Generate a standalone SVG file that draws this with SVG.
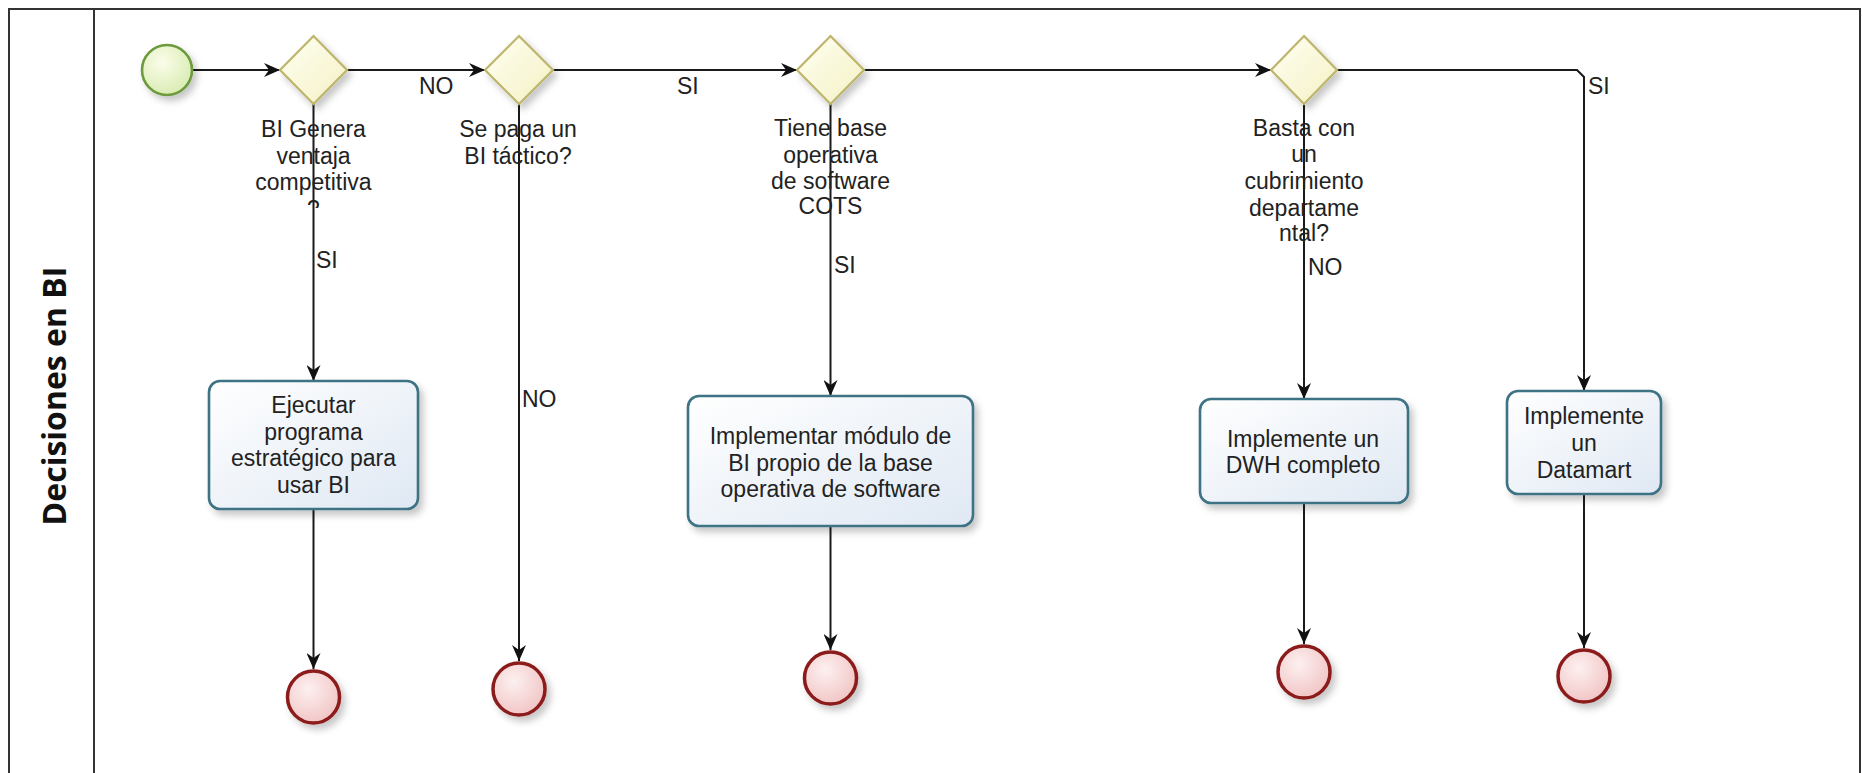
<svg xmlns="http://www.w3.org/2000/svg" width="1862" height="773" viewBox="0 0 1862 773">
<style>
.t{font-family:"Liberation Sans",Arial,sans-serif;font-size:23px;fill:#222;text-anchor:middle}
.l{font-family:"Liberation Sans",Arial,sans-serif;font-size:23px;fill:#222}
.c{fill:none;stroke:#1a1a1a;stroke-width:2;marker-end:url(#arr)}
.dia{fill:url(#gD);stroke:#bdb56c;stroke-width:2.2;filter:url(#sh)}
.box{fill:url(#gB);stroke:#3e7384;stroke-width:2.6;filter:url(#sh)}
.end{fill:url(#gE);stroke:#8c1c1c;stroke-width:3.5;filter:url(#sh)}
</style>
<defs>
<marker id="arr" viewBox="0 0 16 14" refX="16" refY="7" markerWidth="16" markerHeight="14" markerUnits="userSpaceOnUse" orient="auto"><path d="M0,0 L16,7 L0,14 L5,7 z" fill="#111"/></marker>
<filter id="sh" x="-30%" y="-30%" width="170%" height="170%"><feDropShadow dx="4" dy="5" stdDeviation="3.5" flood-color="#000" flood-opacity="0.22"/></filter>
<linearGradient id="gD" x1="0" y1="0" x2="1" y2="1"><stop offset="0" stop-color="#fffff2"/><stop offset="1" stop-color="#f4f1c4"/></linearGradient>
<linearGradient id="gB" x1="0" y1="0" x2="1" y2="1"><stop offset="0" stop-color="#ffffff"/><stop offset="1" stop-color="#dfe8f3"/></linearGradient>
<radialGradient id="gE" cx="0.4" cy="0.35" r="0.7"><stop offset="0" stop-color="#fdf0f0"/><stop offset="1" stop-color="#f1c3c3"/></radialGradient>
<radialGradient id="gS" cx="0.4" cy="0.35" r="0.7"><stop offset="0" stop-color="#fbfdea"/><stop offset="1" stop-color="#d8ebb0"/></radialGradient>
<clipPath id="clipQ"><rect x="280" y="190" width="70" height="18"/></clipPath>
</defs>

<g id="pool">
<rect x="9" y="9" width="1851" height="780" fill="#fff" stroke="#333" stroke-width="2"/>
<line x1="94" y1="9" x2="94" y2="773" stroke="#333" stroke-width="2"/>
<text x="0" y="0" transform="translate(66,396) rotate(-90)" style="font-family:'Open Sans','DejaVu Sans',sans-serif;font-weight:700;font-size:32px;fill:#111;text-anchor:middle">Decisiones en BI</text>
</g>

<g id="connectors">
<line class="c" x1="193" y1="70" x2="280" y2="70"/>
<line class="c" x1="347" y1="70" x2="485" y2="70"/>
<line class="c" x1="553" y1="70" x2="797" y2="70"/>
<line class="c" x1="864" y1="70" x2="1271" y2="70"/>
<path class="c" d="M1337,70 H1577 L1584,77 V391"/>
<line class="c" x1="313.5" y1="104" x2="313.5" y2="381"/>
<line class="c" x1="313.5" y1="509" x2="313.5" y2="669"/>
<line class="c" x1="519" y1="104" x2="519" y2="661"/>
<line class="c" x1="830.5" y1="104" x2="830.5" y2="396"/>
<line class="c" x1="830.5" y1="526" x2="830.5" y2="650"/>
<line class="c" x1="1304" y1="104" x2="1304" y2="399"/>
<line class="c" x1="1304" y1="503" x2="1304" y2="644"/>
<line class="c" x1="1584" y1="494" x2="1584" y2="648"/>
<text class="l" x="419" y="94">NO</text>
<text class="l" x="677" y="94">SI</text>
<text class="l" x="316" y="268">SI</text>
<text class="l" x="522" y="407">NO</text>
<text class="l" x="834" y="273">SI</text>
<text class="l" x="1308" y="275">NO</text>
<text class="l" x="1588" y="94">SI</text>
</g>

<g id="start">
<circle cx="167" cy="70" r="25" fill="url(#gS)" stroke="#6c9a3c" stroke-width="2.6" filter="url(#sh)"/>
</g>

<g id="gw1">
<polygon class="dia" points="313.5,36 347,70 313.5,104 280,70"/>
<text class="t" x="313.5" y="137">BI Genera</text>
<text class="t" x="313.5" y="163.5">ventaja</text>
<text class="t" x="313.5" y="190">competitiva</text>
<text class="t" x="313.5" y="216.5" clip-path="url(#clipQ)">?</text>
</g>

<g id="gw2">
<polygon class="dia" points="519,36 553,70 519,104 485,70"/>
<text class="t" x="518" y="137">Se paga un</text>
<text class="t" x="518" y="163.5">BI táctico?</text>
</g>

<g id="gw3">
<polygon class="dia" points="830.5,36 864,70 830.5,104 797,70"/>
<text class="t" x="830.5" y="136">Tiene base</text>
<text class="t" x="830.5" y="162.5">operativa</text>
<text class="t" x="830.5" y="189">de software</text>
<text class="t" x="830.5" y="214">COTS</text>
</g>

<g id="gw4">
<polygon class="dia" points="1304,36 1337,70 1304,104 1271,70"/>
<text class="t" x="1304" y="136">Basta con</text>
<text class="t" x="1304" y="162">un</text>
<text class="t" x="1304" y="189">cubrimiento</text>
<text class="t" x="1304" y="216">departame</text>
<text class="t" x="1304" y="241">ntal?</text>
</g>

<g id="task1">
<rect class="box" x="209" y="381" width="209" height="128" rx="11"/>
<text class="t" x="313.5" y="413">Ejecutar</text>
<text class="t" x="313.5" y="440">programa</text>
<text class="t" x="313.5" y="466">estratégico para</text>
<text class="t" x="313.5" y="493">usar BI</text>
</g>

<g id="task2">
<rect class="box" x="688" y="396" width="285" height="130" rx="11"/>
<text class="t" x="830.5" y="444">Implementar módulo de</text>
<text class="t" x="830.5" y="471">BI propio de la base</text>
<text class="t" x="830.5" y="497">operativa de software</text>
</g>

<g id="task3">
<rect class="box" x="1200" y="399" width="208" height="104" rx="11"/>
<text class="t" x="1303" y="447">Implemente un</text>
<text class="t" x="1303" y="473">DWH completo</text>
</g>

<g id="task4">
<rect class="box" x="1507" y="391" width="154" height="103" rx="11"/>
<text class="t" x="1584" y="424">Implemente</text>
<text class="t" x="1584" y="451">un</text>
<text class="t" x="1584" y="478">Datamart</text>
</g>

<g id="end1"><circle class="end" cx="313.5" cy="697" r="26"/></g>
<g id="end2"><circle class="end" cx="519" cy="689" r="26"/></g>
<g id="end3"><circle class="end" cx="830.5" cy="678" r="26"/></g>
<g id="end4"><circle class="end" cx="1304" cy="672" r="26"/></g>
<g id="end5"><circle class="end" cx="1584" cy="676" r="26"/></g>
</svg>
